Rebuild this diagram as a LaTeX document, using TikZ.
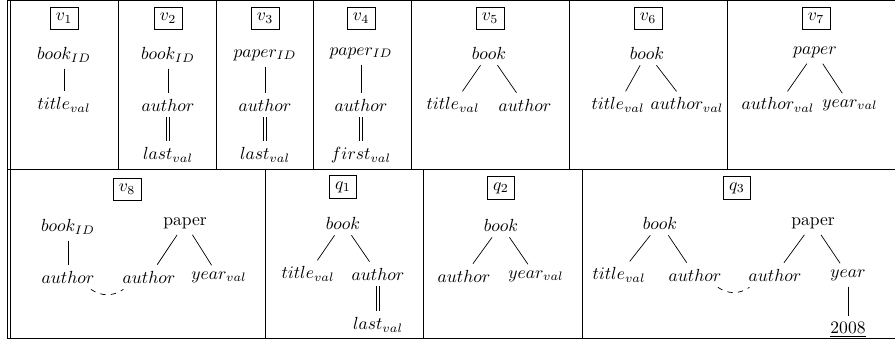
\documentclass[tikz,border=0pt]{standalone}
\usepackage{amsmath,amssymb}
\usepackage{tikz}
\usetikzlibrary{calc}
\tikzset{>=latex}
\tikzset{lbl/.style={draw, thin}}
\newcommand{\dline}[2]{\draw ([xshift=-0.8pt]#1.south) -- ([xshift=-0.8pt]#2.north); \draw ([xshift=0.8pt]#1.south) -- ([xshift=0.8pt]#2.north);}

\begin{document}
\begin{tikzpicture}[x=0.02cm, y=-0.02cm]
\useasboundingbox (0,0) rectangle (895,341);
\draw (7,0.4) -- (7,338); 
\draw (10,0.4) -- (10,338);
\draw (7,0.4) -- (895,0.4);
\draw (7,169) -- (895,169);
\draw (7,338) -- (895,338);
\foreach \x in {118,216,313,411,569,727} \draw (\x,0.4) -- (\x,169);
\foreach \x in {265,423,582} \draw (\x,169) -- (\x,338);

\node[lbl] (l1) at (64,18.5) {$v_1$};
\node (a1) at (64,55) {$book_{ID}$};
\node (b1) at (64,105) {$title_{val}$};
\draw (a1) -- (b1);

\node[lbl] (l2) at (168,18.5) {$v_2$};
\node (a2) at (168,55) {$book_{ID}$};
\node (b2) at (168,105) {$author$};
\node (c2) at (168,155) {$last_{val}$};
\draw (a2) -- (b2);
\dline{b2}{c2}

\node[lbl] (l3) at (265,18.5) {$v_3$};
\node (a3) at (265,55) {$paper_{ID}$};
\node (b3) at (265,105) {$author$};
\node (c3) at (265,155) {$last_{val}$};
\draw (a3) -- (b3);
\dline{b3}{c3}

\node[lbl] (l4) at (361,18.5) {$v_4$};
\node (a4) at (361,53) {$paper_{ID}$};
\node (b4) at (361,105) {$author$};
\node (c4) at (361,155) {$first_{val}$};
\draw (a4) -- (b4);
\dline{b4}{c4}

\node[lbl] (l5) at (490,18.5) {$v_5$};
\node (a5) at (489,53) {$book$};
\node (b5) at (453,105) {$title_{val}$};
\node (c5) at (525,105) {$author$};
\draw (a5) -- (b5);
\draw (a5) -- (c5);

\node[lbl] (l6) at (648,18.5) {$v_6$};
\node (a6) at (647,53) {$book$};
\node (b6) at (618,105) {$title_{val}$};
\node (c6) at (687,105) {$author_{val}$};
\draw (a6) -- (b6);
\draw (a6) -- (c6);

\node[lbl] (l7) at (816,18.5) {$v_7$};
\node (a7) at (815,52) {$paper$};
\node (b7) at (778,105) {$author_{val}$};
\node (c7) at (850,105) {$year_{val}$};
\draw (a7) -- (b7);
\draw (a7) -- (c7);

\node[lbl] (l8) at (127,189) {$v_8$};
\node (a8) at (68,227) {$book_{ID}$};
\node (b8) at (68,277) {$author$};
\node (p8) at (185,223) {paper};
\node (c8) at (149,277) {$author$};
\node (d8) at (219,277) {$year_{val}$};
\draw (a8) -- (b8);
\draw (p8) -- (c8);
\draw (p8) -- (d8);
\draw[dashed] ([xshift=-5.5pt]b8.south east) to[bend right=35] ([xshift=4pt]c8.south west);

\node[lbl] (lq1) at (343,187) {$q_1$};
\node (aq1) at (343,223) {$book$};
\node (bq1) at (308,274) {$title_{val}$};
\node (cq1) at (378,274) {$author$};
\node (dq1) at (378,325) {$last_{val}$};
\draw (aq1) -- (bq1);
\draw (aq1) -- (cq1);
\dline{cq1}{dq1}

\node[lbl] (lq2) at (501,188) {$q_2$};
\node (aq2) at (501,225) {$book$};
\node (bq2) at (464,276) {$author$};
\node (cq2) at (536,276) {$year_{val}$};
\draw (aq2) -- (bq2);
\draw (aq2) -- (cq2);

\node[lbl] (lq3) at (737,188) {$q_3$};
\node (aq3) at (660,223) {$book$};
\node (bq3) at (619,275) {$title_{val}$};
\node (cq3) at (695,275) {$author$};
\node (pq3) at (813,223) {paper};
\node (dq3) at (775,275) {$author$};
\node (eq3) at (848,275) {$year$};
\node (fq3) at (848,330) {\underline{2008}};
\draw (aq3) -- (bq3);
\draw (aq3) -- (cq3);
\draw (pq3) -- (dq3);
\draw (pq3) -- (eq3);
\draw (eq3) -- (fq3);
\draw[dashed] ([xshift=-5.5pt]cq3.south east) to[bend right=35] ([xshift=4pt]dq3.south west);
\end{tikzpicture}
\end{document}
